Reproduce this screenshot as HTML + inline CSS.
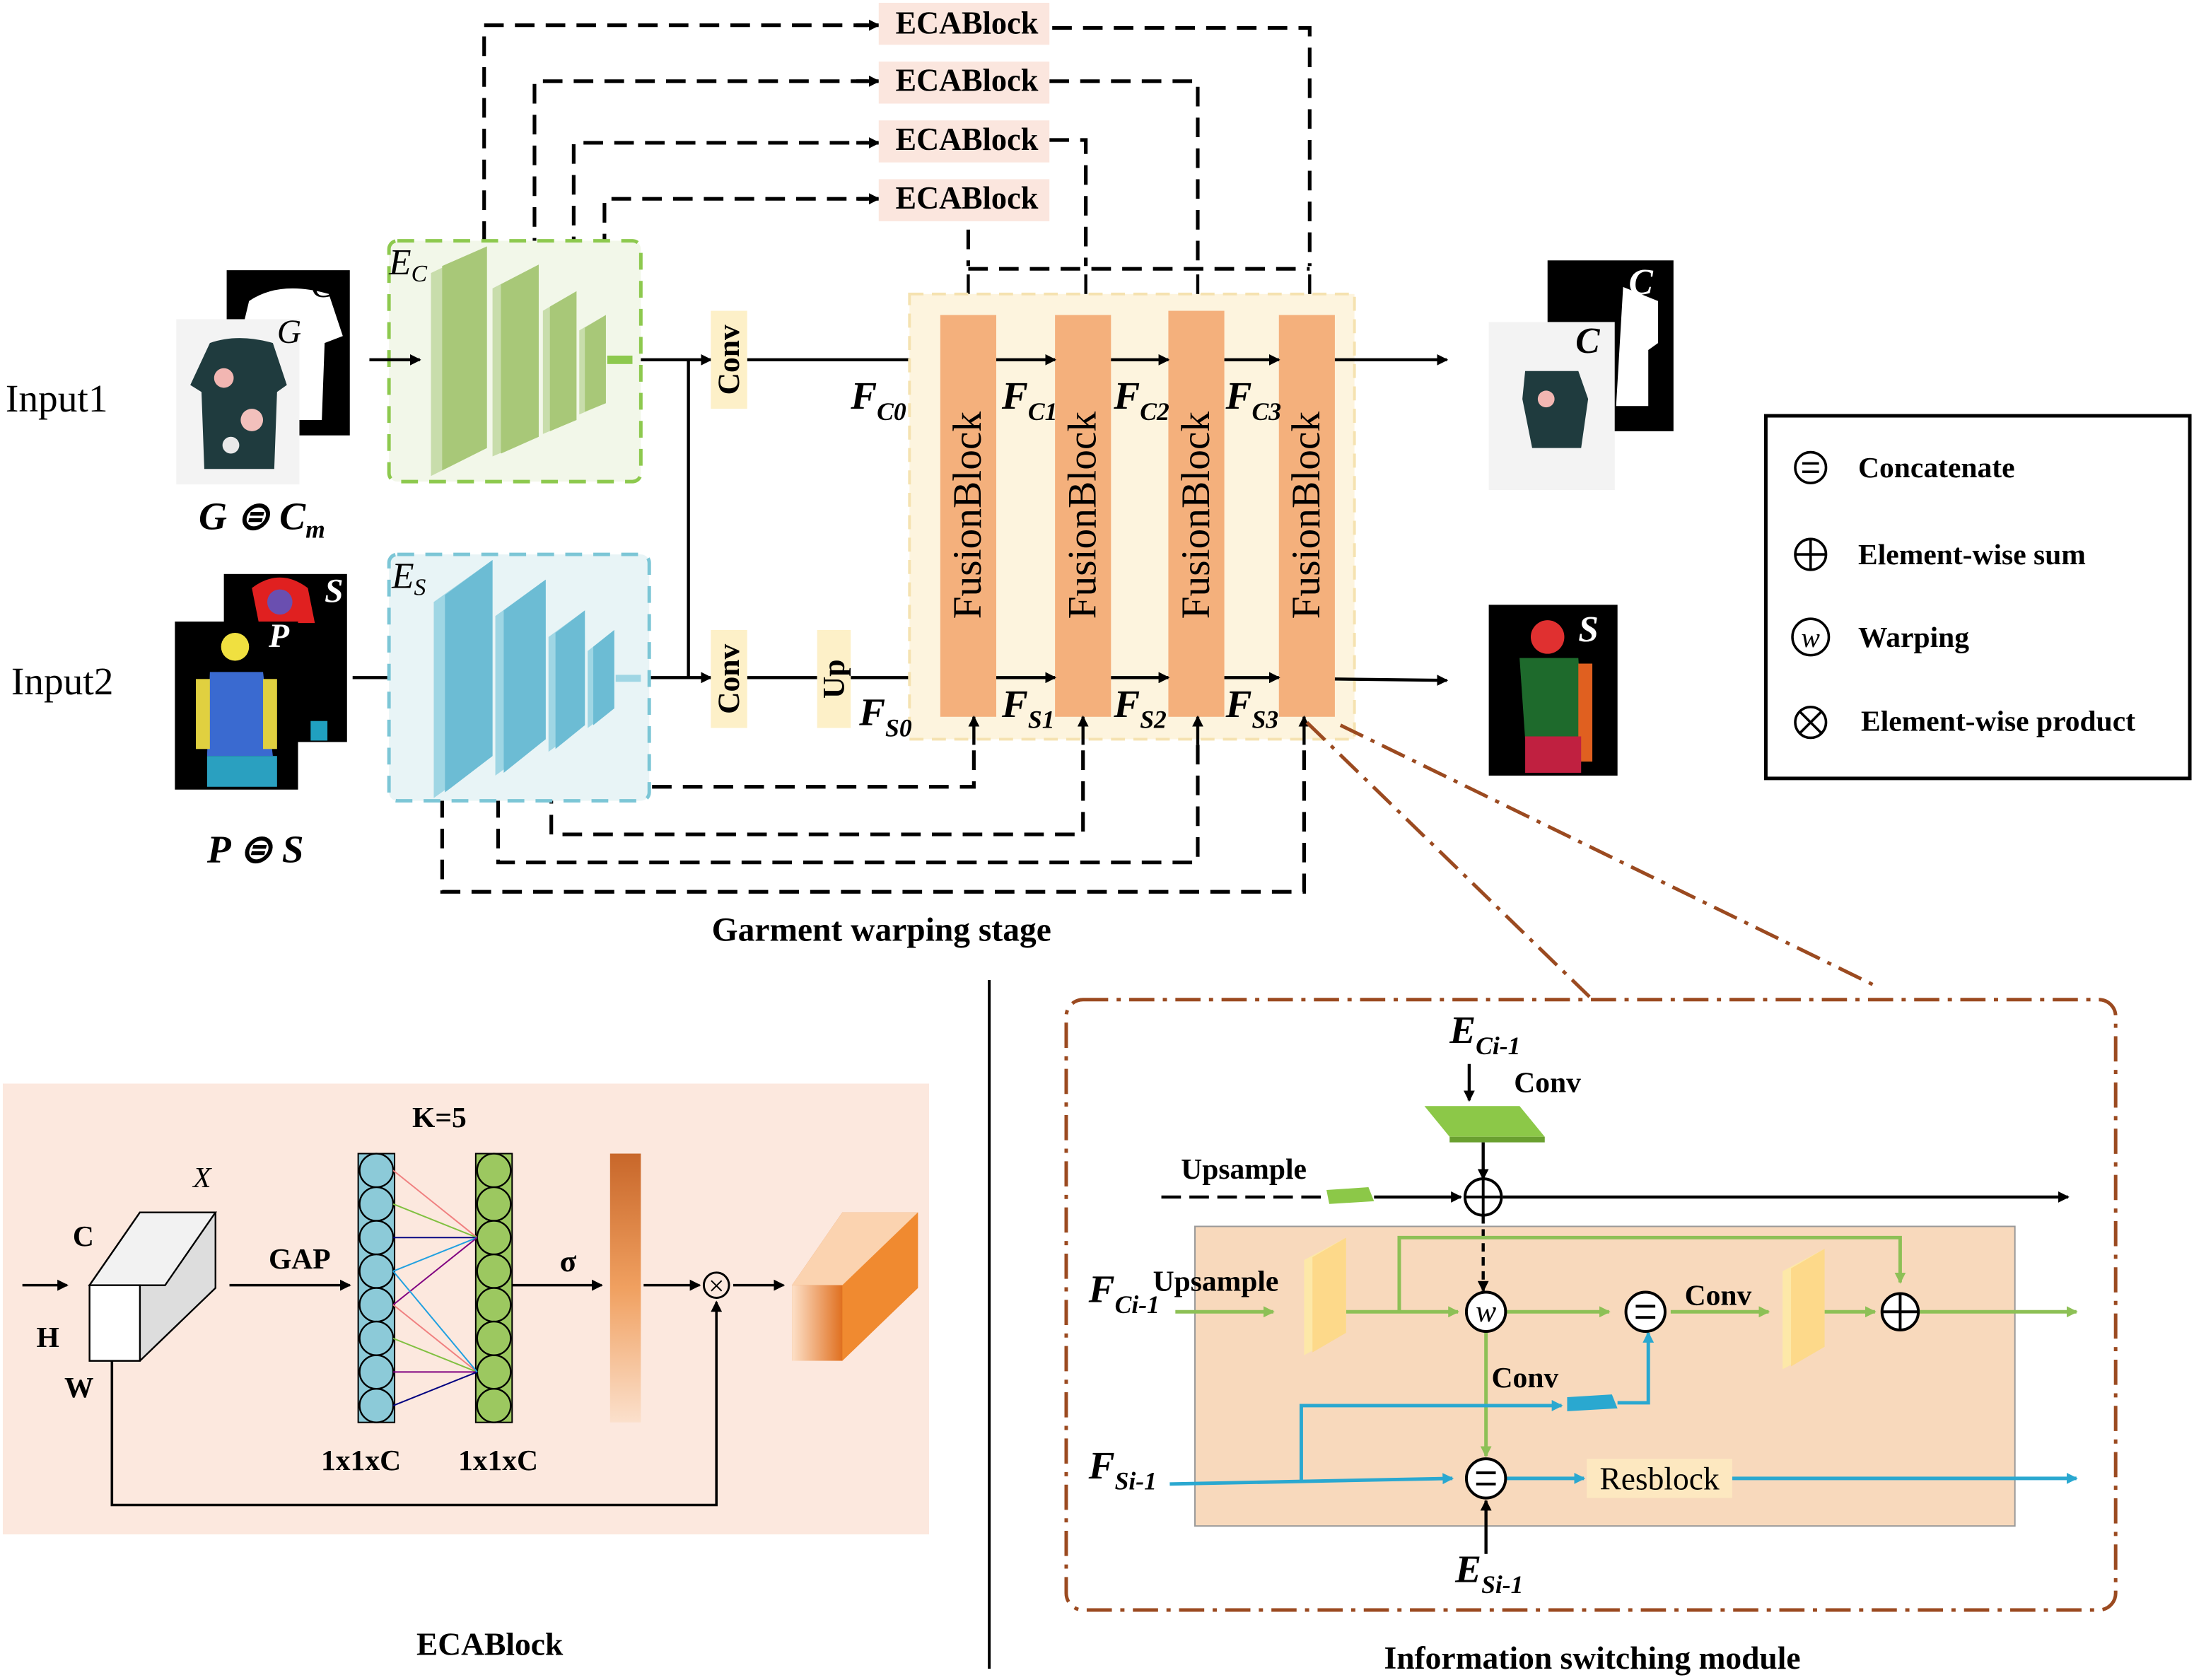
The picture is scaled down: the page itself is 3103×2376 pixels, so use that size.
<!DOCTYPE html>
<html><head><meta charset="utf-8"><style>
html,body{margin:0;padding:0;background:#fff}
svg{display:block}
text{font-family:"Liberation Serif",serif}
.b{font-weight:bold}
</style></head><body>
<svg width="3103" height="2376" viewBox="0 0 1568 1200" preserveAspectRatio="none" xmlns="http://www.w3.org/2000/svg">
<defs>
<marker id="a" markerWidth="8" markerHeight="8" refX="7" refY="4" orient="auto" markerUnits="userSpaceOnUse"><path d="M0,0 L8,4 L0,8z" fill="#000"/></marker>
<marker id="ag" markerWidth="8" markerHeight="8" refX="7" refY="4" orient="auto" markerUnits="userSpaceOnUse"><path d="M0,0 L8,4 L0,8z" fill="#8dc056"/></marker>
<marker id="ab" markerWidth="8" markerHeight="8" refX="7" refY="4" orient="auto" markerUnits="userSpaceOnUse"><path d="M0,0 L8,4 L0,8z" fill="#2aa8d0"/></marker>
<linearGradient id="og" x1="0" y1="0" x2="0" y2="1"><stop offset="0" stop-color="#c8672a"/><stop offset="0.5" stop-color="#f0a060"/><stop offset="1" stop-color="#fbe0cc"/></linearGradient>
<linearGradient id="cg" x1="0" y1="0" x2="1" y2="0"><stop offset="0" stop-color="#fde0c8"/><stop offset="1" stop-color="#e07020"/></linearGradient>
</defs>

<!-- top dashed skip lines -->
<g fill="none" stroke="#000" stroke-width="2.6" stroke-dasharray="14,8">
<path d="M346,172 V18 H620"/><path d="M752,20 H936 V190"/>
<path d="M382,184 V58 H620"/><path d="M750,58 H856 V190"/>
<path d="M410,205 V102 H620"/><path d="M750,100 H776 V190"/>
<path d="M432,225 V142 H620"/>
<path d="M692,164 V190"/>
<path d="M692,192 H936"/>
<path d="M422,540 V562 H696 V530"/>
<path d="M394,560 V596 H774 V530"/>
<path d="M356,570 V616 H856 V530"/>
<path d="M316,570 V637 H932 V530"/>
</g>
<g stroke="#000" stroke-width="2.6" marker-end="url(#a)">
<line x1="612" y1="18" x2="628" y2="18"/><line x1="612" y1="58" x2="628" y2="58"/><line x1="612" y1="102" x2="628" y2="102"/><line x1="612" y1="142" x2="628" y2="142"/>
</g>
<g fill="#fbe6de">
<rect x="628" y="2" width="122" height="30"/><rect x="628" y="44" width="122" height="30"/>
<rect x="628" y="86" width="122" height="30"/><rect x="628" y="128" width="122" height="30"/>
</g>
<g class="b" font-size="23">
<text x="640" y="24" class="b" textLength="102" lengthAdjust="spacingAndGlyphs">ECABlock</text><text x="640" y="65" class="b" textLength="102" lengthAdjust="spacingAndGlyphs">ECABlock</text>
<text x="640" y="107" class="b" textLength="102" lengthAdjust="spacingAndGlyphs">ECABlock</text><text x="640" y="149" class="b" textLength="102" lengthAdjust="spacingAndGlyphs">ECABlock</text>
</g>
<g stroke="#000" stroke-width="2.2" marker-end="url(#a)">
<line x1="692" y1="196" x2="692" y2="225"/><line x1="776" y1="196" x2="776" y2="225"/><line x1="856" y1="196" x2="856" y2="222"/><line x1="936" y1="196" x2="936" y2="225"/>
</g>

<!-- inputs -->
<text x="4" y="294" font-size="28">Input1</text>
<text x="8" y="496" font-size="28">Input2</text>
<rect x="162" y="193" width="88" height="118" fill="#000"/>
<path d="M178,215 Q200,200 235,210 L245,240 L232,245 L230,300 L190,300 L188,240 L172,240z" fill="#fff"/>
<rect x="126" y="228" width="88" height="118" fill="#f3f3f3"/>
<path d="M150,245 Q170,238 195,245 L205,275 L198,280 L196,335 L146,335 L144,280 L136,275z" fill="#1f3b3e"/>
<circle cx="160" cy="270" r="7" fill="#f2b6b2"/><circle cx="180" cy="300" r="8" fill="#f2c0bc"/><circle cx="165" cy="318" r="6" fill="#e9e9e9"/>
<text x="198" y="245" font-size="24" font-style="italic">G</text>
<text x="222" y="212" font-size="26" font-style="italic" fill="#000">C</text>
<text x="142" y="378" font-size="28" font-style="italic" class="b">G ⊜ C<tspan font-size="18" dy="6">m</tspan></text>

<rect x="160" y="410" width="88" height="120" fill="#000"/>
<path d="M180,420 Q200,405 220,420 L225,445 L185,445z" fill="#e02020"/>
<circle cx="200" cy="430" r="9" fill="#6a4fb0"/>
<rect x="222" y="515" width="12" height="14" fill="#20a0c0"/>
<text x="232" y="430" font-size="24" font-style="italic" class="b" fill="#fff">S</text>
<rect x="125" y="444" width="88" height="120" fill="#000"/>
<circle cx="168" cy="462" r="10" fill="#f0e040"/>
<path d="M150,480 L188,480 L195,540 L148,540z" fill="#3a6ad0"/>
<rect x="140" y="485" width="10" height="50" fill="#e0d040"/><rect x="188" y="485" width="10" height="50" fill="#e0d040"/>
<rect x="148" y="540" width="50" height="22" fill="#2aa0c0"/>
<text x="192" y="462" font-size="24" font-style="italic" class="b" fill="#fff">P</text>
<text x="148" y="616" font-size="28" font-style="italic" class="b">P ⊜ S</text>

<!-- Ec -->
<rect x="278" y="172" width="180" height="172" rx="6" fill="#f2f7e9" stroke="#8dc94e" stroke-width="2.5" stroke-dasharray="12,8"/>
<text x="278" y="196" font-size="26" font-style="italic">E<tspan font-size="17" dy="5">C</tspan></text>
<g fill="#a8c878">
<path d="M308,195 L348,176 L348,320 L308,340z" fill="#c8ddab"/>
<path d="M316,190 L348,176 L348,320 L316,336z"/>
<path d="M352,206 L385,189 L385,312 L352,326z" fill="#c8ddab"/><path d="M358,203 L385,189 L385,312 L358,324z"/>
<path d="M388,222 L412,208 L412,300 L388,310z" fill="#c8ddab"/><path d="M393,219 L412,208 L412,300 L393,308z"/>
<path d="M414,236 L433,225 L433,288 L414,296z" fill="#c8ddab"/><path d="M418,234 L433,225 L433,288 L418,294z"/>
<rect x="434" y="254" width="18" height="6" fill="#8dc94e"/>
</g>
<g stroke="#000" stroke-width="2.2" fill="none">
<line x1="264" y1="257" x2="300" y2="257" marker-end="url(#a)"/>
<line x1="458" y1="257" x2="508" y2="257" marker-end="url(#a)"/>
<line x1="492" y1="257" x2="492" y2="484"/>
<line x1="464" y1="484" x2="508" y2="484" marker-end="url(#a)"/>
<line x1="252" y1="484" x2="300" y2="484" marker-end="url(#a)"/>
<line x1="534" y1="257" x2="672" y2="257" marker-end="url(#a)"/>
<line x1="534" y1="484" x2="584" y2="484"/>
<line x1="608" y1="484" x2="672" y2="484" marker-end="url(#a)"/>
</g>

<!-- Es -->
<rect x="278" y="396" width="186" height="176" rx="6" fill="#e8f4f6" stroke="#7cc6d6" stroke-width="2.5" stroke-dasharray="12,8"/>
<text x="280" y="420" font-size="26" font-style="italic">E<tspan font-size="17" dy="5">S</tspan></text>
<path d="M310,430 L352,400 L352,540 L310,570z" fill="#9fd6e4"/><path d="M318,425 L352,400 L352,540 L318,566z" fill="#6cbcd4"/>
<path d="M354,440 L390,414 L390,528 L354,554z" fill="#9fd6e4"/><path d="M360,436 L390,414 L390,528 L360,552z" fill="#6cbcd4"/>
<path d="M392,455 L418,436 L418,518 L392,537z" fill="#9fd6e4"/><path d="M397,452 L418,436 L418,518 L397,535z" fill="#6cbcd4"/>
<path d="M420,465 L439,450 L439,506 L420,520z" fill="#9fd6e4"/><path d="M424,462 L439,450 L439,506 L424,518z" fill="#6cbcd4"/>
<rect x="440" y="482" width="18" height="5" fill="#9fd6e4"/>

<!-- conv/up -->
<rect x="508" y="222" width="26" height="70" fill="#fdf0c8"/><rect x="508" y="450" width="26" height="70" fill="#fdf0c8"/><rect x="584" y="450" width="24" height="70" fill="#fdf0c8"/>
<text transform="translate(528,257) rotate(-90)" font-size="22" class="b" text-anchor="middle">Conv</text>
<text transform="translate(528,485) rotate(-90)" font-size="22" class="b" text-anchor="middle">Conv</text>
<text transform="translate(603,485) rotate(-90)" font-size="22" class="b" text-anchor="middle">Up</text>

<!-- fusion -->
<rect x="650" y="210" width="318" height="318" fill="#fdf4de" stroke="#f5e2b0" stroke-width="2" stroke-dasharray="10,6"/>
<g fill="#f4b07c">
<rect x="672" y="225" width="40" height="287"/><rect x="754" y="225" width="40" height="287"/>
<rect x="835" y="222" width="40" height="290"/><rect x="914" y="225" width="40" height="287"/>
</g>
<g font-size="29">
<text transform="translate(701,368) rotate(-90)" text-anchor="middle">FusionBlock</text>
<text transform="translate(783,368) rotate(-90)" text-anchor="middle">FusionBlock</text>
<text transform="translate(864,368) rotate(-90)" text-anchor="middle">FusionBlock</text>
<text transform="translate(943,368) rotate(-90)" text-anchor="middle">FusionBlock</text>
</g>
<g stroke="#000" stroke-width="2.2" marker-end="url(#a)">
<line x1="712" y1="257" x2="754" y2="257"/><line x1="794" y1="257" x2="835" y2="257"/><line x1="875" y1="257" x2="914" y2="257"/><line x1="954" y1="257" x2="1034" y2="257"/>
<line x1="712" y1="484" x2="754" y2="484"/><line x1="794" y1="484" x2="835" y2="484"/><line x1="875" y1="484" x2="914" y2="484"/><line x1="954" y1="485" x2="1034" y2="486"/>
<line x1="696" y1="532" x2="696" y2="512"/><line x1="774" y1="532" x2="774" y2="512"/><line x1="856" y1="532" x2="856" y2="512"/><line x1="932" y1="532" x2="932" y2="512"/>
</g>
<g font-size="28" font-style="italic" class="b">
<text x="608" y="292">F<tspan font-size="18" dy="8">C0</tspan></text>
<text x="716" y="292">F<tspan font-size="18" dy="8">C1</tspan></text>
<text x="796" y="292">F<tspan font-size="18" dy="8">C2</tspan></text>
<text x="876" y="292">F<tspan font-size="18" dy="8">C3</tspan></text>
<text x="614" y="518">F<tspan font-size="18" dy="8">S0</tspan></text>
<text x="716" y="512">F<tspan font-size="18" dy="8">S1</tspan></text>
<text x="796" y="512">F<tspan font-size="18" dy="8">S2</tspan></text>
<text x="876" y="512">F<tspan font-size="18" dy="8">S3</tspan></text>
</g>
<text x="630" y="672" font-size="24" class="b" text-anchor="middle">Garment  warping stage</text>

<!-- outputs -->
<rect x="1106" y="186" width="90" height="122" fill="#000"/>
<path d="M1160,205 L1185,215 L1185,245 L1178,250 L1178,290 L1155,290z" fill="#fff"/>
<text x="1164" y="210" font-size="26" font-style="italic" class="b" fill="#fff">C</text>
<rect x="1064" y="230" width="90" height="120" fill="#f3f3f3"/>
<path d="M1090,265 L1128,265 L1135,285 L1130,320 L1095,320 L1088,285z" fill="#1f3b3e"/>
<circle cx="1105" cy="285" r="6" fill="#f2b6b2"/>
<text x="1126" y="252" font-size="26" font-style="italic" class="b">C</text>
<rect x="1064" y="432" width="92" height="122" fill="#000"/>
<circle cx="1106" cy="455" r="12" fill="#e03030"/>
<path d="M1086,470 L1128,470 L1132,528 L1090,528z" fill="#1e6a2c"/>
<rect x="1128" y="474" width="10" height="70" fill="#e06020"/>
<rect x="1090" y="526" width="40" height="26" fill="#c02040"/>
<text x="1128" y="458" font-size="26" font-style="italic" class="b" fill="#fff">S</text>

<!-- legend -->
<rect x="1262" y="297" width="303" height="259" fill="#fff" stroke="#000" stroke-width="2.5"/>
<g fill="none" stroke="#000" stroke-width="1.8">
<circle cx="1294" cy="334" r="11"/><line x1="1288" y1="331" x2="1300" y2="331"/><line x1="1288" y1="337" x2="1300" y2="337"/>
<circle cx="1294" cy="396" r="11"/><line x1="1283" y1="396" x2="1305" y2="396"/><line x1="1294" y1="385" x2="1294" y2="407"/>
<circle cx="1294" cy="455" r="13"/>
<circle cx="1294" cy="516" r="11"/><line x1="1286" y1="508" x2="1302" y2="524"/><line x1="1302" y1="508" x2="1286" y2="524"/>
</g>
<text x="1294" y="462" font-size="20" font-style="italic" text-anchor="middle">w</text>
<g font-size="21" class="b">
<text x="1328" y="341">Concatenate</text><text x="1328" y="403">Element-wise sum</text>
<text x="1328" y="462">Warping</text><text x="1330" y="522">Element-wise product</text>
</g>

<!-- separator -->
<line x1="707" y1="700" x2="707" y2="1192" stroke="#000" stroke-width="2"/>

<!-- ECA block panel -->
<rect x="2" y="774" width="662" height="322" fill="#fce8de"/>
<text x="314" y="805" font-size="21" class="b" text-anchor="middle">K=5</text>
<path d="M64,918 L100,866 L154,866 L154,920 L100,972 L64,972z" fill="#ddd" stroke="#000" stroke-width="1.2"/>
<path d="M64,918 L100,866 L154,866 L118,918z" fill="#f2f2f2" stroke="#000" stroke-width="1.2"/>
<rect x="64" y="918" width="36" height="54" fill="#fff" stroke="#000" stroke-width="1.2"/>
<text x="52" y="890" font-size="21" class="b">C</text><text x="26" y="962" font-size="21" class="b">H</text><text x="46" y="998" font-size="21" class="b">W</text>
<text x="138" y="848" font-size="21" font-style="italic">X</text>
<text x="192" y="906" font-size="21" class="b">GAP</text>
<g stroke="#000" stroke-width="1.8" fill="none">
<line x1="16" y1="918" x2="48" y2="918" marker-end="url(#a)"/>
<line x1="164" y1="918" x2="250" y2="918" marker-end="url(#a)"/>
<line x1="366" y1="918" x2="430" y2="918" marker-end="url(#a)"/>
<line x1="460" y1="918" x2="500" y2="918" marker-end="url(#a)"/>
<line x1="524" y1="918" x2="560" y2="918" marker-end="url(#a)"/>
<path d="M80,972 V1075 H512 V930" marker-end="url(#a)"/>
</g>
<circle cx="512" cy="918" r="9" fill="none" stroke="#000" stroke-width="1.5"/>
<text x="512" y="925" font-size="20" text-anchor="middle">×</text>
<rect x="256" y="824" width="26" height="192" fill="#8ccad8" stroke="#000" stroke-width="1"/>
<rect x="340" y="824" width="26" height="192" fill="#9cc860" stroke="#000" stroke-width="1"/>
<g stroke="#000" stroke-width="1.2">
<g fill="#8ccad8"><circle cx="269" cy="836" r="12"/><circle cx="269" cy="860" r="12"/><circle cx="269" cy="884" r="12"/><circle cx="269" cy="908" r="12"/><circle cx="269" cy="932" r="12"/><circle cx="269" cy="956" r="12"/><circle cx="269" cy="980" r="12"/><circle cx="269" cy="1004" r="12"/></g>
<g fill="#9cc860"><circle cx="353" cy="836" r="12"/><circle cx="353" cy="860" r="12"/><circle cx="353" cy="884" r="12"/><circle cx="353" cy="908" r="12"/><circle cx="353" cy="932" r="12"/><circle cx="353" cy="956" r="12"/><circle cx="353" cy="980" r="12"/><circle cx="353" cy="1004" r="12"/></g>
</g>
<g stroke-width="1">
<line x1="281" y1="836" x2="341" y2="884" stroke="#f08080"/><line x1="281" y1="860" x2="341" y2="884" stroke="#80c040"/><line x1="281" y1="884" x2="341" y2="884" stroke="#000080"/><line x1="281" y1="908" x2="341" y2="884" stroke="#20a0e0"/><line x1="281" y1="932" x2="341" y2="884" stroke="#800080"/>
<line x1="281" y1="932" x2="341" y2="980" stroke="#f08080"/><line x1="281" y1="956" x2="341" y2="980" stroke="#80c040"/><line x1="281" y1="980" x2="341" y2="980" stroke="#800080"/><line x1="281" y1="1004" x2="341" y2="980" stroke="#000080"/><line x1="281" y1="908" x2="341" y2="980" stroke="#20a0e0"/>
</g>
<text x="258" y="1050" font-size="21" class="b" text-anchor="middle">1x1xC</text>
<text x="356" y="1050" font-size="21" class="b" text-anchor="middle">1x1xC</text>
<text x="406" y="908" font-size="22" class="b" text-anchor="middle">σ</text>
<rect x="436" y="824" width="22" height="192" fill="url(#og)"/>
<path d="M566,918 L602,866 L656,866 L656,920 L602,972 L566,972z" fill="#e07020"/>
<path d="M566,918 L602,866 L656,866 L620,918z" fill="#fbd3b0"/>
<rect x="566" y="918" width="36" height="54" fill="url(#cg)"/>
<path d="M602,918 L656,866 L656,920 L602,972z" fill="#f08a30"/>
<text x="350" y="1182" font-size="23" class="b" text-anchor="middle">ECABlock</text>

<!-- info switching -->
<g fill="none" stroke="#9b4a20" stroke-width="2.5" stroke-dasharray="18,6,3,6">
<line x1="934" y1="516" x2="1136" y2="712"/><line x1="958" y1="518" x2="1340" y2="704"/>
<rect x="762" y="714" width="750" height="436" rx="12"/>
</g>
<rect x="854" y="876" width="586" height="214" fill="#f8d9bc" stroke="#999" stroke-width="1"/>
<text x="1036" y="745" font-size="28" font-style="italic" class="b">E<tspan font-size="18" dy="8">Ci-1</tspan></text>
<text x="1082" y="780" font-size="21" class="b">Conv</text>
<path d="M1018,790 L1086,790 L1104,812 L1036,812z" fill="#8cc848"/><path d="M1036,812 L1104,812 L1104,816 L1036,816z" fill="#6aa030"/>
<text x="844" y="842" font-size="21" class="b">Upsample</text>
<path d="M948,850 L978,848 L982,858 L950,860z" fill="#8cc848"/>
<g stroke="#000" stroke-width="2.2" fill="none">
<line x1="1050" y1="760" x2="1050" y2="786" marker-end="url(#a)"/>
<line x1="1060" y1="816" x2="1060" y2="842" marker-end="url(#a)"/>
<line x1="830" y1="855" x2="944" y2="855" stroke-dasharray="14,6"/>
<line x1="982" y1="855" x2="1044" y2="855" marker-end="url(#a)"/>
<line x1="1074" y1="855" x2="1478" y2="855" marker-end="url(#a)"/>
<line x1="1060" y1="868" x2="1060" y2="922" stroke-dasharray="6,4" marker-end="url(#a)"/>
<line x1="1062" y1="1110" x2="1062" y2="1072" marker-end="url(#a)"/>
</g>
<circle cx="1060" cy="855" r="13" fill="#fff" stroke="#000" stroke-width="2"/>
<path d="M1047,855 H1073 M1060,842 V868" stroke="#000" stroke-width="2"/>
<text x="778" y="930" font-size="28" font-style="italic" class="b">F<tspan font-size="18" dy="8">Ci-1</tspan></text>
<text x="824" y="922" font-size="21" class="b">Upsample</text>
<g stroke="#8dc056" stroke-width="2.5" fill="none">
<line x1="840" y1="937" x2="910" y2="937" marker-end="url(#ag)"/>
<path d="M962,937 H1042" marker-end="url(#ag)"/>
<path d="M1000,937 V884 H1358 V916" marker-end="url(#ag)"/>
<line x1="1076" y1="937" x2="1150" y2="937" marker-end="url(#ag)"/>
<line x1="1194" y1="937" x2="1264" y2="937" marker-end="url(#ag)"/>
<line x1="1304" y1="937" x2="1340" y2="937" marker-end="url(#ag)"/>
<line x1="1372" y1="937" x2="1484" y2="937" marker-end="url(#ag)"/>
<line x1="1062" y1="950" x2="1062" y2="1040" marker-end="url(#ag)"/>
</g>
<path d="M932,900 L962,884 L962,952 L932,968z" fill="#fde8a8"/><path d="M938,898 L962,884 L962,952 L938,966z" fill="#fdd98a"/>
<path d="M1274,908 L1304,892 L1304,962 L1274,978z" fill="#fde8a8"/><path d="M1280,906 L1304,892 L1304,962 L1280,976z" fill="#fdd98a"/>
<text x="1204" y="932" font-size="21" class="b">Conv</text>
<text x="1066" y="991" font-size="21" class="b">Conv</text>
<path d="M1120,998 L1152,996 L1156,1006 L1120,1008z" fill="#2aa8d0"/>
<g stroke="#2aa8d0" stroke-width="2.5" fill="none">
<line x1="836" y1="1060" x2="1038" y2="1056" marker-end="url(#ab)"/>
<path d="M930,1058 V1004 H1116" marker-end="url(#ab)"/>
<path d="M1156,1002 H1178 V952" marker-end="url(#ab)"/>
<line x1="1076" y1="1056" x2="1132" y2="1056" marker-end="url(#ab)"/>
<line x1="1238" y1="1056" x2="1484" y2="1056" marker-end="url(#ab)"/>
</g>
<rect x="1134" y="1042" width="104" height="28" fill="#fde8c0"/>
<text x="1186" y="1064" font-size="23" text-anchor="middle">Resblock</text>
<g fill="#fff" stroke="#000" stroke-width="2">
<circle cx="1062" cy="937" r="14"/><circle cx="1176" cy="937" r="14"/><circle cx="1358" cy="937" r="13"/><circle cx="1062" cy="1056" r="14"/>
</g>
<text x="1062" y="944" font-size="22" font-style="italic" text-anchor="middle">w</text>
<g stroke="#000" stroke-width="2">
<path d="M1169,933 H1183 M1169,941 H1183"/><path d="M1055,1052 H1069 M1055,1060 H1069"/><path d="M1345,937 H1371 M1358,924 V950"/>
</g>
<text x="1040" y="1130" font-size="28" font-style="italic" class="b">E<tspan font-size="18" dy="8">Si-1</tspan></text>
<text x="778" y="1056" font-size="28" font-style="italic" class="b">F<tspan font-size="18" dy="8">Si-1</tspan></text>
<text x="1138" y="1192" font-size="23" class="b" text-anchor="middle">Information switching module</text>
</svg>
</body></html>
